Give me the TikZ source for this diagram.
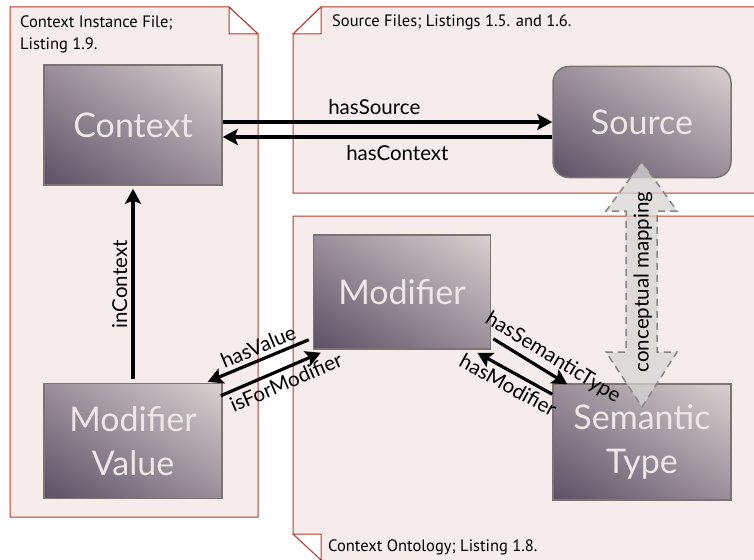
\documentclass[tikz,border=0pt]{standalone}
\usepackage{fontspec}
\setmainfont{Lato}
\newfontfamily\titlefont{PT Sans}
\usetikzlibrary{arrows.meta,calc,shadings}
\definecolor{panelfill}{HTML}{F7ECEC}
\definecolor{panelline}{HTML}{B8392B}
\definecolor{boxdark}{HTML}{5C5165}
\definecolor{boxlight}{HTML}{D9D1D1}
\definecolor{boxmid}{HTML}{9A8F98}
\definecolor{boxline}{HTML}{7D7373}
\definecolor{boxtext}{HTML}{EEE7E7}
\definecolor{mapfill}{HTML}{D8D4D4}
\definecolor{mapline}{HTML}{8A8585}
\begin{document}
\begin{tikzpicture}[x=1pt,y=-1pt,
 panel/.style={fill=panelfill,draw=panelline,line width=1pt},
 fold/.style={fill=white,draw=panelline,line width=1pt},
 cls/.style={draw=boxline,line width=1.5pt,lower left=boxdark,upper right=boxlight,upper left=boxmid,lower right=boxmid,text=boxtext,font=\fontsize{34}{44}\selectfont,align=center,inner sep=0pt,minimum width=178pt},
 rel/.style={line width=3.2pt,-{Stealth[length=15pt,width=16pt,inset=3pt]}},
 lbl/.style={font=\fontsize{20.5}{24}\selectfont,text=black,inner sep=1pt},
 ttl/.style={font=\titlefont\fontsize{16.5}{22}\selectfont,anchor=west,inner sep=0pt,align=left}]
\useasboundingbox (0,0) rectangle (754,559);
% panels
\draw[panel] (10,7) -- (229,7) -- (258,34) -- (258,517) -- (10,517) -- cycle;
\draw[fold] (229,7) -- (229,34) -- (258,34) -- cycle;
\draw[panel] (321,7) -- (760,7) -- (760,193) -- (293,193) -- (293,34) -- cycle;
\draw[fold] (293,34) -- (321,34) -- (321,7) -- cycle;
\draw[panel] (293,216) -- (760,216) -- (760,570) -- (333,570) -- (293,534) -- cycle;
\draw[fold] (293,534) -- (321,534) -- (321,560) -- cycle;
\node[ttl] (t1) at (20,34) {Context Instance File;\\Listing 1.9.};
\node[ttl] (t2) at (332,22) {Source Files; Listings 1.5. and 1.6.};
\node[ttl] (t3) at (328,547) {Context Ontology; Listing 1.8.};
% classes
\node[cls,minimum height=120pt] (Context) at (133,125) {Context};
\node[cls,minimum height=111pt,rounded corners=16pt] (Source) at (642,122) {Source};
\node[cls,minimum height=114pt,minimum width=177pt] (Modifier) at (402,292) {Modifier};
\node[cls,minimum height=115pt] (MV) at (133,441) {Modifier\\Value};
\node[cls,minimum height=116pt] (ST) at (642,442) {Semantic\\Type};
% conceptual mapping
\draw[mapline,dashed,dash pattern=on 7pt off 5pt,line width=1.5pt,fill=mapfill,fill opacity=0.75]
  (642,162) -- (677,211) -- (657,211) -- (657,352) -- (677,352) -- (642,407)
  -- (606,352) -- (626,352) -- (626,211) -- (606,211) -- cycle;
\node[lbl,rotate=90] (cm) at (643,282) {conceptual mapping};
% relations
\draw[rel] (Context.east |- Source.west) -- (Source.west)
  node[lbl,pos=0.46,above=5pt] (l1) {hasSource};
\draw[rel] ($(Source.west)+(0,15)$) -- ($(Context.east)+(0,12)$)
  node[lbl,pos=0.47,below=6pt] (l2) {hasContext};
\draw[rel,shorten <=4pt,shorten >=3pt] (MV.north) -- (Context.south)
  node[lbl,midway,above=3pt,sloped] (l3) {inContext};
\draw[rel] ($(Modifier.south west)+(-4,-10)$) -- ($(MV.north east)+(-15,-1)$)
  node[lbl,pos=0.45,above=3pt,sloped] (l4) {hasValue};
\draw[rel] ($(MV.north east)+(-2,13)$) -- ($(Modifier.south west)+(8,3)$)
  node[lbl,pos=0.6,below=3pt,sloped] (l5) {isForModifier};
\draw[rel] ($(Modifier.south east)+(2,-11)$) -- ($(ST.north west)+(15,1)$)
  node[lbl,pos=0.7,above=3pt,sloped] (l6) {hasSemanticType};
\draw[rel] ($(ST.north west)+(0,11)$) -- ($(Modifier.south east)+(-14,3)$)
  node[lbl,pos=0.5,below=3pt,sloped] (l7) {hasModifier};
\end{tikzpicture}
\end{document}
